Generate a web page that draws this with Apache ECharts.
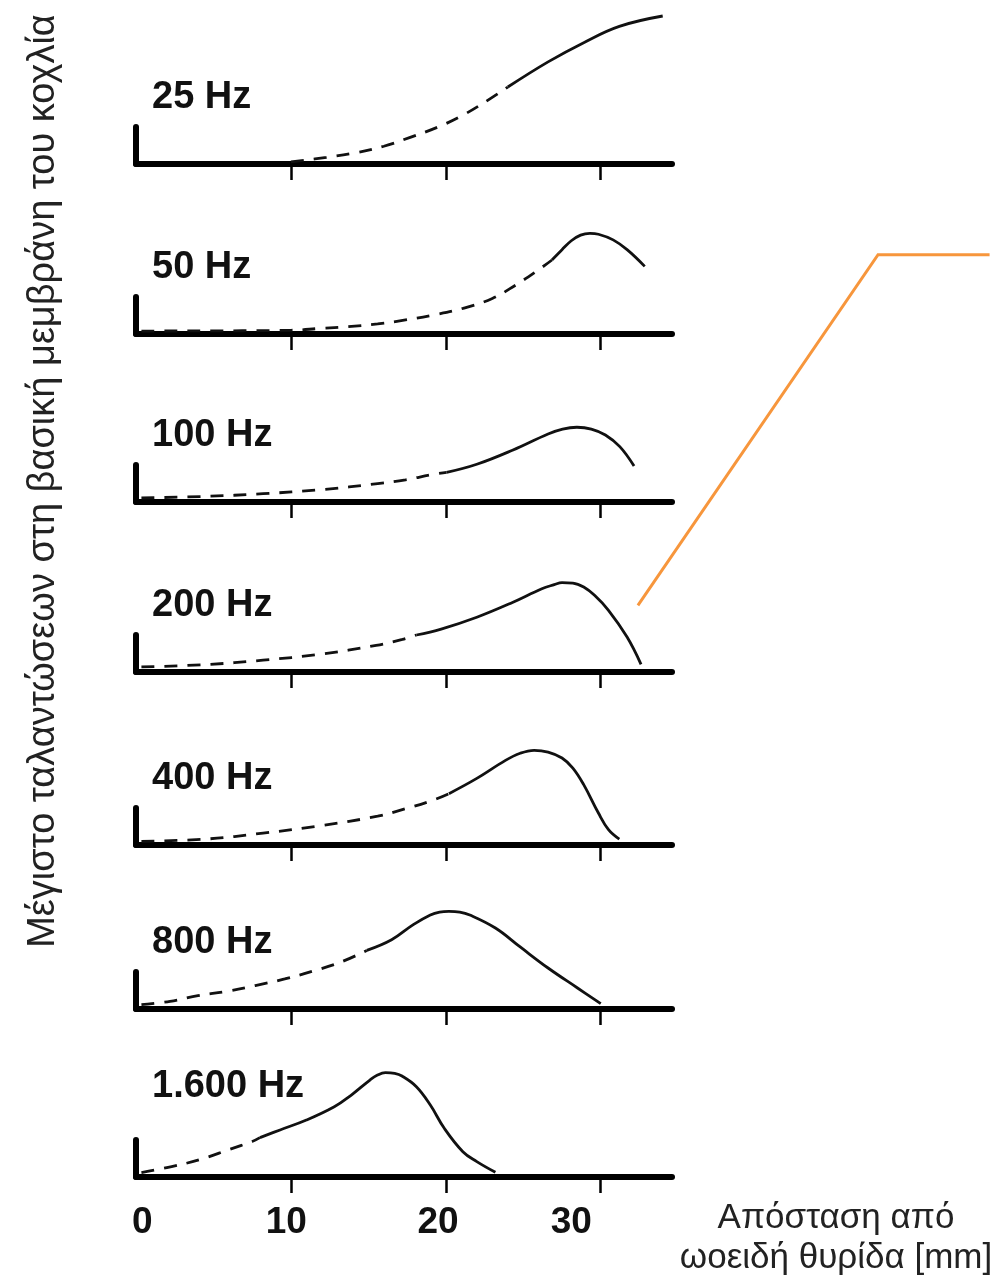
<!DOCTYPE html>
<html>
<head>
<meta charset="utf-8">
<script src="https://cdn.jsdelivr.net/npm/echarts@6/dist/echarts.min.js"></script>
<style>
  html, body { margin: 0; padding: 0; background: #fff; }
  #chart { width: 1003px; height: 1286px; }
</style>
</head>
<body>
<div id="chart"></div>
<script>
// panel labels (frequency of the stimulus)
const freqLabels = ["25 Hz", "50 Hz", "100 Hz", "200 Hz", "400 Hz", "800 Hz", "1.600 Hz"]

// x ticks / labels [mm]
const tickValues = [10, 20, 30]
const tickLabels = ["0", "10", "20", "30"]
const tickLabelPos = [0.4, 9.7, 19.5, 28.1]

// amplitude envelopes: [distance mm, relative amplitude]
const hz25Dash = [[10.0, 1.4], [12.3, 4.5], [14.2, 7.6], [16.0, 12], [17.7, 18], [19.5, 25], [21.1, 33], [22.7, 43], [24.0, 52]]
const hz25Solid = [[24.0, 52], [26.6, 69], [28.9, 82], [31.2, 93], [34.0, 100]]

const hz50Dash = [[0.35, 2], [10.0, 2.5], [11.9, 3.8], [13.7, 5], [15.6, 6.8], [17.4, 9.5], [19.2, 12.8], [21.1, 17.3], [23.0, 24], [24.5, 33], [26.0, 43.5], [26.85, 50]]
const hz50Solid = [[26.85, 50], [27.5, 57], [28.1, 63], [28.7, 66.8], [29.3, 68], [29.85, 67.4], [30.8, 63.6], [31.7, 57], [32.84, 45.7]]

const hz100Dash = [[0.35, 2.7], [4.5, 3.8], [8.2, 5.6], [11.9, 8.3], [15.6, 12.4], [17.4, 15], [19.1, 18.5], [20.05, 20]]
const hz100Solid = [[20.05, 20], [22.0, 25.5], [24.3, 35], [26.6, 46], [27.54, 49.3], [28.46, 50.5], [29.39, 49.3], [30.3, 45.3], [31.23, 37.4], [32.15, 24.3]]

const hz200Dash = [[0.35, 3.4], [4.5, 5], [8.2, 8], [11.9, 12], [15.5, 18], [17.2, 22], [18.1, 25]]
const hz200Solid = [[18.1, 25], [19.7, 29], [22.0, 37], [24.3, 47], [26.2, 56.3], [27.0, 59], [27.5, 60.4], [28.2, 60.1], [28.9, 57.4], [29.6, 51.8], [30.5, 41.7], [31.7, 23.6], [32.6, 5.2]]

const hz400Dash = [[0.35, 2.5], [4.5, 4], [8.2, 8], [11.9, 13], [15.6, 19.5], [17.4, 24.5], [19.1, 30], [20.2, 34.7]]
const hz400Solid = [[20.2, 34.7], [22.0, 45], [23.85, 57.2], [24.8, 62], [25.7, 64], [26.6, 62.8], [27.5, 58.8], [28.2, 52], [28.9, 40.8], [29.85, 21.6], [30.5, 10.4], [31.2, 4]]

const hz800Dash = [[0.35, 2.9], [2.2, 5.2], [4.0, 9], [5.9, 12], [7.7, 15.8], [9.6, 20.3], [11.4, 25.5], [13.3, 32], [14.9, 39.6]]
const hz800Solid = [[14.9, 39.6], [16.5, 46.8], [17.9, 57], [19.0, 63.5], [19.6, 65.5], [20.2, 66], [20.9, 65.5], [21.55, 63.5], [23.2, 54.7], [24.8, 41.9], [26.6, 27.7], [28.5, 14.2], [30.0, 3.6]]

const hz1600Dash = [[0.35, 3], [2.3, 7], [4.2, 12], [6.0, 18.5], [7.5, 24], [8.0, 26.6]]
const hz1600Solid = [[8.0, 26.6], [9.3, 31.8], [11.0, 38.5], [12.8, 47.5], [13.9, 55.4], [15.1, 65.5], [15.56, 68.7], [16.1, 70.5], [16.7, 70], [17.17, 68.2], [18.1, 61], [19.0, 48.6], [19.9, 32.9], [21.1, 17.1], [22.0, 10.4], [23.2, 3.2]]

// orange pointer, in the 200 Hz panel's units
const calloutPath = [[32.4, 45], [47.9, 282], [55.1, 282]]

const dashed = [hz25Dash, hz50Dash, hz100Dash, hz200Dash, hz400Dash, hz800Dash, hz1600Dash]
const solid = [hz25Solid, hz50Solid, hz100Solid, hz200Solid, hz400Solid, hz800Solid, hz1600Solid]

const axisY = [164, 334, 502, 672, 845, 1009, 1177]
const stubH = 37
const FONT = '"Liberation Sans", Arial, sans-serif'

const chart = echarts.init(document.getElementById("chart"))

const grids = [], xAxes = [], yAxes = [], series = [], titles = []
axisY.forEach((y, i) => {
  const last = i === axisY.length - 1
  grids.push({ left: 136, width: 536, top: y - stubH, height: stubH })
  xAxes.push({
    gridIndex: i,
    type: "value",
    min: 0,
    max: 34.6,
    axisLine: { show: true, lineStyle: { color: "#000", width: 6 } },
    axisTick: { show: true, customValues: tickValues, length: 16, lineStyle: { color: "#000", width: 2.5 } },
    axisLabel: {
      show: last,
      customValues: tickLabelPos,
      margin: 27,
      fontSize: 37,
      fontWeight: "bold",
      fontFamily: FONT,
      color: "#111",
      formatter: (v) => tickLabels[tickLabelPos.indexOf(v)],
    },
    splitLine: { show: false },
  })
  yAxes.push({
    gridIndex: i,
    type: "value",
    min: 0,
    max: 25,
    axisLine: { show: true, lineStyle: { color: "#000", width: 6 } },
    axisTick: { show: false },
    axisLabel: { show: false },
    splitLine: { show: false },
  })
  series.push({
    type: "line",
    xAxisIndex: i,
    yAxisIndex: i,
    data: dashed[i],
    smooth: 0.4,
    symbol: "none",
    clip: false,
    lineStyle: { color: "#111", width: 2.8, type: [13, 10] },
  })
  series.push({
    type: "line",
    xAxisIndex: i,
    yAxisIndex: i,
    data: solid[i],
    smooth: 0.4,
    symbol: "none",
    clip: false,
    lineStyle: { color: "#111", width: 2.8 },
  })
  titles.push({
    text: freqLabels[i],
    left: 152,
    top: y - (last ? 109 : 85),
    padding: 0,
    textStyle: { fontSize: 38, fontWeight: "bold", fontFamily: FONT, color: "#111" },
  })
})

chart.setOption({
  animation: false,
  backgroundColor: "#fff",
  title: titles,
  grid: grids,
  xAxis: xAxes,
  yAxis: yAxes,
  series: series,
})

// pointer line mapped through the 200 Hz panel's axes
const calloutPts = calloutPath.map((p) => chart.convertToPixel({ xAxisIndex: 3, yAxisIndex: 3 }, p))

chart.setOption({
  graphic: [
    {
      id: "ytitle",
      type: "text",
      x: 44,
      y: 481,
      rotation: Math.PI / 2,
      style: {
        text: "Μέγιστο ταλαντώσεων στη βασική μεμβράνη του κοχλία",
        font: '38px "Liberation Sans", Arial, sans-serif',
        fill: "#222",
        align: "center",
        verticalAlign: "middle",
      },
    },
    {
      id: "xtitle",
      type: "text",
      x: 836,
      y: 1238,
      style: {
        text: "Απόσταση από\nωοειδή θυρίδα [mm]",
        font: '35px "Liberation Sans", Arial, sans-serif',
        lineHeight: 40,
        fill: "#222",
        align: "center",
        verticalAlign: "middle",
      },
    },
    {
      id: "callout",
      type: "polyline",
      shape: { points: calloutPts },
      style: { stroke: "#F7963C", lineWidth: 3, fill: null },
    },
  ],
})
</script>
</body>
</html>
